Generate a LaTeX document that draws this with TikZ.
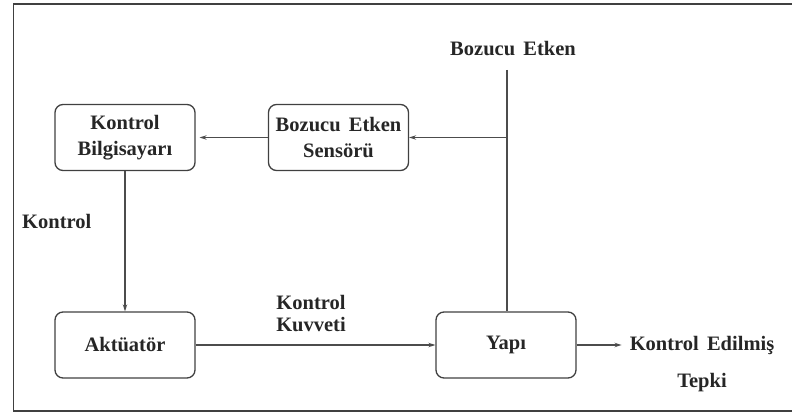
\documentclass[tikz,border=0pt]{standalone}
\usepackage{fontspec}
\setmainfont[WordSpace=1.6]{Liberation Serif}
\usetikzlibrary{arrows.meta}
\begin{document}
\begin{tikzpicture}[x=1pt,y=-1pt,
  txt/.style={font=\fontsize{20.5}{26}\selectfont\bfseries, text=black!85, align=center, inner sep=0pt},
  blk/.style={draw=black!75, line width=1.3pt, rounded corners=8pt, minimum width=140pt, minimum height=66pt, txt},
  conn/.style={draw=black!70, line width=1.3pt},
  arr/.style={conn, -{Stealth[length=7pt,width=4.5pt]}}]
\useasboundingbox (0,0) rectangle (792,414);
\begin{scope}
\clip (0,0) rectangle (792,414);
\draw[black!75, line width=1.5pt] (795,4) -- (13.5,4) -- (13.5,411) -- (795,411);
\end{scope}

% blocks
\node[blk] (kb) at (125,137.5) {Kontrol\\Bilgisayarı};
\node[blk] (bs) at (338.5,137.5) {Bozucu Etken\\Sensörü};
\node[blk] (ak) at (125,345) {Aktüatör};
\node[blk] (yp) at (506,345) {Yapı};

% free labels
\node[txt] (be) at (513,49) {Bozucu Etken};
\node[txt, anchor=west] (kt) at (22,221) {Kontrol};
\node[txt, font=\fontsize{20.5}{22}\selectfont\bfseries] (kk) at (311,314) {Kontrol\\Kuvveti};
\node[txt, font=\fontsize{20.5}{37}\selectfont\bfseries] (ke) at (702,364) {Kontrol Edilmiş\\Tepki};

% connectors
\coordinate (top) at (507,70);
\coordinate (br) at (507,137.5);
\draw[conn] (top) -- (yp.north -| top);
\draw[arr] (br) -- (bs.east);
\draw[arr] (bs.west) -- ([xshift=4pt]kb.east);
\draw[arr] (kb.south) -- (ak.north);
\draw[arr] (ak.east) -- (yp.west);
\draw[arr] (yp.east) -- ([xshift=-8pt]ke.west |- yp.east);
\end{tikzpicture}
\end{document}
